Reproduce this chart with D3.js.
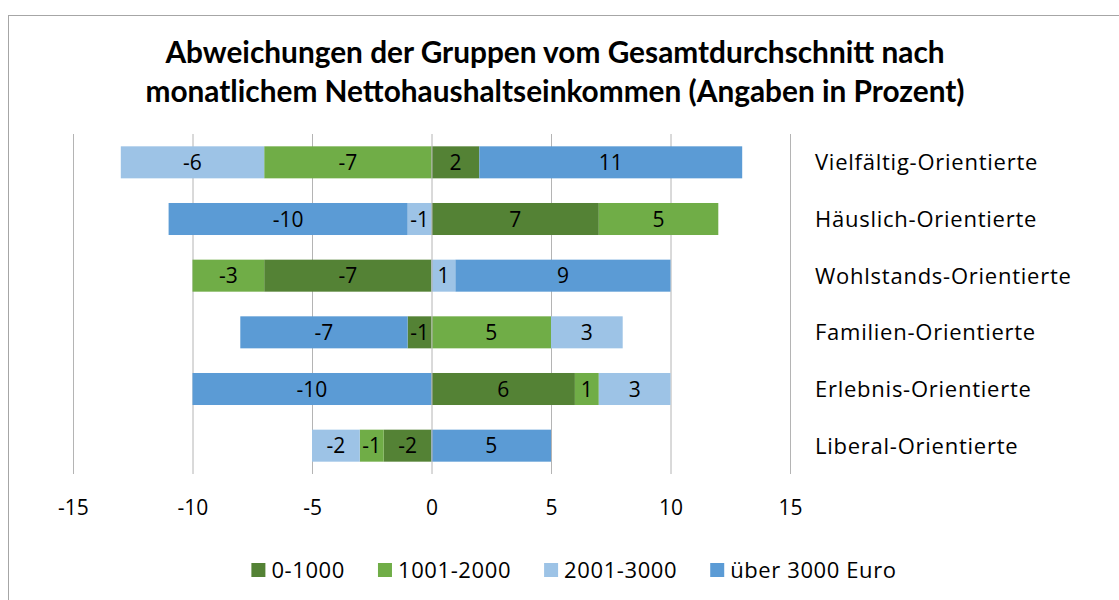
<!DOCTYPE html>
<html>
<head>
<meta charset="utf-8">
<script src="https://cdn.jsdelivr.net/npm/d3@7"></script>
<style>
  body { margin: 0; background: #fff; }
  svg { font-family: "Open Sans", Lato, sans-serif; }
</style>
</head>
<body>
<script>
// chart data
const categories = ["Vielfältig-Orientierte", "Häuslich-Orientierte", "Wohlstands-Orientierte",
                    "Familien-Orientierte", "Erlebnis-Orientierte", "Liberal-Orientierte"];
const seriesNames = ["0-1000", "1001-2000", "2001-3000", "über 3000 Euro"];
const v0to1000    = [2, 7, -7, -1, 6, -2];
const v1001to2000 = [-7, 5, -3, 5, 1, -1];
const v2001to3000 = [-6, -1, 1, 3, 3, -2];
const vOver3000   = [11, -10, 9, -7, -10, 5];
const xTicks = [-15, -10, -5, 0, 5, 10, 15];
const titleLines = ["Abweichungen der Gruppen vom Gesamtdurchschnitt nach",
                    "monatlichem Nettohaushaltseinkommen (Angaben in Prozent)"];

const colors = ["#548235", "#70ad47", "#9dc3e6", "#5b9bd5"];

let width = 1119, height = 600;
let fs = 21; // numbers
let fsLabel = 22; // category and legend text

// build rows for the stack
const allValues = [v0to1000, v1001to2000, v2001to3000, vOver3000];
const rows = categories.map((c, i) => {
  let r = { category: c };
  seriesNames.forEach((s, j) => r[s] = allValues[j][i]);
  return r;
});

const stack = d3.stack()
  .keys(seriesNames)
  .offset(d3.stackOffsetDiverging);
const layers = stack(rows);

let x = d3.scaleLinear().domain([-15, 15]).range([73, 790]);
let y = d3.scaleBand().domain(categories).range([134, 474]).paddingInner(0.435).paddingOuter(0.2175);

let svg = d3.select("body").append("svg")
  .attr("width", width)
  .attr("height", height);

// outer chart border
svg.append("rect")
  .attr("x", 8.5).attr("y", 15.5)
  .attr("width", 1200).attr("height", 700)
  .attr("fill", "none")
  .attr("stroke", "#a6a6a6");

// title
svg.append("g")
  .selectAll("text")
  .data(titleLines)
  .join("text")
  .attr("x", 555)
  .attr("y", (d, i) => 63 + i * 39)
  .attr("text-anchor", "middle")
  .attr("font-family", "Lato, sans-serif")
  .attr("font-size", 29.8)
  .attr("font-weight", "bold")
  .attr("fill", "#000")
  .text(d => d);

// vertical gridlines
svg.append("g")
  .selectAll("line")
  .data(xTicks.filter(t => t !== 0))
  .join("line")
  .attr("x1", d => x(d) + 0.5).attr("x2", d => x(d) + 0.5)
  .attr("y1", 134).attr("y2", 474)
  .attr("stroke", "#b4b4b4");

// bars
let layer = svg.append("g")
  .selectAll("g")
  .data(layers)
  .join("g")
  .attr("fill", (d, i) => colors[i]);

layer.selectAll("rect")
  .data(d => d.map(p => ({ p: p, key: d.key })))
  .join("rect")
  .attr("x", d => x(Math.min(d.p[0], d.p[1])))
  .attr("width", d => Math.abs(x(d.p[1]) - x(d.p[0])))
  .attr("y", d => y(d.p.data.category))
  .attr("height", y.bandwidth());

// value axis line at zero, drawn over the bars
svg.append("line")
  .attr("x1", x(0) + 0.5).attr("x2", x(0) + 0.5)
  .attr("y1", 134).attr("y2", 474)
  .attr("stroke", "#b4b4b4");

// data labels
layer.selectAll("text")
  .data(d => d.map(p => ({ p: p, key: d.key })))
  .join("text")
  .attr("x", d => x((d.p[0] + d.p[1]) / 2))
  .attr("y", d => y(d.p.data.category) + y.bandwidth() / 2)
  .attr("dy", "0.36em")
  .attr("text-anchor", "middle")
  .attr("font-size", fs)
  .attr("fill", "#000")
  .text(d => d.p.data[d.key]);

// category labels on the right
svg.append("g")
  .selectAll("text")
  .data(categories)
  .join("text")
  .attr("x", 815)
  .attr("y", d => y(d) + y.bandwidth() / 2)
  .attr("dy", "0.36em")
  .attr("font-size", fsLabel)
  .attr("letter-spacing", 0.75)
  .attr("fill", "#000")
  .text(d => d);

// x axis tick labels (plain hyphen for negatives)
let xAxis = svg.append("g")
  .attr("transform", "translate(0,500)")
  .call(d3.axisBottom(x).tickValues(xTicks).tickFormat(d => String(d)).tickSize(0).tickPadding(0));
xAxis.select(".domain").remove();
xAxis.selectAll("text")
  .attr("font-size", fs)
  .attr("font-family", "'Open Sans', sans-serif")
  .attr("fill", "#000")
  .attr("dy", "0.71em");

// legend
let legend = svg.append("g");
let lx = 0;
seriesNames.forEach((s, i) => {
  let item = legend.append("g").attr("transform", `translate(${lx},0)`);
  item.append("rect")
    .attr("x", 0).attr("y", 563)
    .attr("width", 14).attr("height", 14)
    .attr("fill", colors[i]);
  let t = item.append("text")
    .attr("x", 20).attr("y", 570)
    .attr("dy", "0.36em")
    .attr("font-size", fsLabel)
    .attr("letter-spacing", 0.6)
    .attr("fill", "#000")
    .text(s);
  lx += 20 + t.node().getComputedTextLength() + 33;
});
let legendWidth = lx - 33;
legend.attr("transform", `translate(${574 - legendWidth / 2},0)`);
</script>
</body>
</html>
